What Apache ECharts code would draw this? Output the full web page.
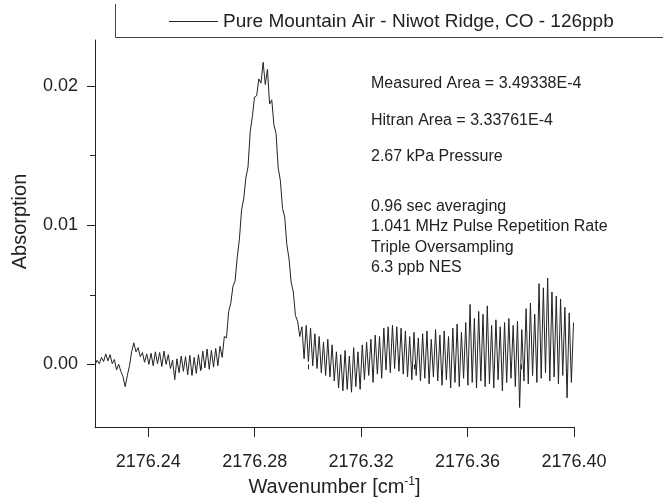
<!DOCTYPE html>
<html>
<head>
<meta charset="utf-8">
<script src="https://cdn.jsdelivr.net/npm/echarts@6/dist/echarts.min.js"></script>
<style>html,body{margin:0;padding:0;background:#fff}#c{width:663px;height:502px}</style>
</head>
<body>
<div id="c"></div>
<script>
const seriesName = 'Pure Mountain Air - Niwot Ridge, CO - 126ppb';
const wnStart = 2176.22;
const wnStep = 0.00081;
const absorption = [
-0.00005,0.0003,0.00005,0.0005,0.0002,0.00075,0.00025,0.0007,0.00005,0.00035,
-0.0004,0,-0.0005,-0.0009,-0.0016,-0.0008,-0.0001,0.0009,0.00155,0.0009,
0.0012,0.00055,0.00085,0.00015,0.00075,0,0.0008,-0.0001,0.0009,0.00005,
0.00085,-0.00015,0.00095,0,0.0007,-0.0003,0.0003,-0.0011,0.0004,-0.0006,
0.0006,-0.0005,0.00055,-0.00075,0.00065,-0.0008,0.0005,-0.00065,0.0007,-0.00045,
0.00095,-0.00025,0.0011,-0.00035,0.001,-0.0002,0.00115,-0.0001,0.0013,
0.0005,0.002,0.0019,0.0038,0.0044,0.0056,0.006,0.0077,0.009,0.0111,
0.0119,0.0134,0.0142,0.0167,0.0178,0.0192,0.0193,0.0205,0.0202,0.0217,
0.0201,0.0212,0.0187,0.019,0.0172,0.0166,0.0141,0.0132,0.0112,0.0106,
0.0086,0.0076,0.0059,0.0052,0.0035,0.0031,0.002,
0.0027,0.0004,0.0028,0.0002,0.0026,-0.0001,0.0022,-0.0003,0.002,-0.0006,
0.0016,-0.0008,0.0018,-0.0009,0.0014,-0.0012,0.0009,-0.0017,0.0007,-0.0019,
0.001,-0.0018,0.0006,-0.002,0.0012,-0.0016,0.0009,-0.0018,0.0014,-0.0011,
0.0016,-0.0008,0.0018,-0.0013,0.0021,-0.0007,0.002,-0.001,0.0026,-0.0004,
0.0027,-0.0006,0.0028,-0.0003,0.0027,-0.0005,0.0026,-0.0007,0.0024,-0.0009,
0.002,-0.0011,0.0023,-0.0008,0.0019,-0.0012,0.0022,-0.001,0.0024,-0.0014,
0.0018,-0.0009,0.0025,-0.0012,0.0021,-0.0015,0.0024,-0.0011,0.002,-0.0017,
0.0026,-0.0013,0.0029,-0.0016,0.0023,-0.001,0.003,-0.0015,0.0043,-0.0013,
0.0033,-0.0017,0.0038,-0.0012,0.0036,-0.0016,0.0042,-0.0014,0.0028,-0.0017,
0.0032,-0.0011,0.0027,-0.0019,0.003,-0.0013,0.0033,-0.001,0.0028,-0.0016,
0.0031,-0.0031,0.0025,-0.0012,0.004,-0.0014,0.0044,-0.0008,0.0036,-0.0013,
0.0058,-0.001,0.0055,-0.0006,0.0062,-0.0012,0.0052,-0.0009,0.0049,-0.0014,
0.0047,-0.0008,0.0041,-0.0024,0.0037,-0.0013,0.003
];
const xMajorTicks = [2176.24, 2176.28, 2176.32, 2176.36, 2176.40];
const xMinorTicks = [2176.22, 2176.26, 2176.30, 2176.34, 2176.38];
const yMajorTicks = [0, 0.01, 0.02];
const yMinorTicks = [0.005, 0.015];
const notes = [
  'Measured Area = 3.49338E-4',
  'Hitran Area = 3.33761E-4',
  '2.67 kPa Pressure',
  '0.96 sec averaging',
  '1.041 MHz Pulse Repetition Rate',
  'Triple Oversampling',
  '6.3 ppb NES'
];
const noteY = [84, 121, 157, 207, 227, 248, 268];

const FONT = "'Liberation Sans', Arial, sans-serif";
const INK = '#222';
const data = absorption.map((v, i) => [+(wnStart + i * wnStep).toFixed(5), v]);

const chart = echarts.init(document.getElementById('c'), null, {renderer: 'canvas'});
const xMin = 2176.22, xMax = 2176.40, yMin = -0.0045, yMax = 0.0233;

chart.setOption({
  animation: false,
  backgroundColor: '#fff',
  grid: {left: 95, right: 89, top: 40, bottom: 74},
  legend: {
    left: 169, top: 12, padding: 0,
    icon: 'rect', itemWidth: 49, itemHeight: 1,
    textStyle: {fontFamily: FONT, fontSize: 19, color: INK},
    data: [seriesName]
  },
  xAxis: [{
    type: 'value', min: xMin, max: xMax,
    name: '{a|Wavenumber [cm}{s|-1}{a|]}',
    nameLocation: 'middle', nameGap: 49,
    nameTextStyle: {
      rich: {
        a: {fontFamily: FONT, fontSize: 20, color: INK, lineHeight: 22},
        s: {fontFamily: FONT, fontSize: 12, color: INK, verticalAlign: 'top', lineHeight: 22}
      }
    },
    axisLine: {show: true, onZero: false, lineStyle: {color: INK, width: 1}},
    axisTick: {show: true, customValues: xMajorTicks, length: 10, lineStyle: {color: INK}},
    axisLabel: {customValues: xMajorTicks, margin: 26, fontFamily: FONT, fontSize: 18, color: INK,
      formatter: v => v.toFixed(2)},
    splitLine: {show: false}
  }, {
    type: 'value', min: xMin, max: xMax, position: 'bottom', gridIndex: 0,
    axisLine: {show: false},
    axisTick: {show: true, customValues: xMinorTicks, length: 5, lineStyle: {color: INK}},
    axisLabel: {show: false},
    splitLine: {show: false}
  }],
  yAxis: [{
    type: 'value', min: yMin, max: yMax,
    name: 'Absorption', nameLocation: 'middle', nameGap: 65,
    nameTextStyle: {fontFamily: FONT, fontSize: 20, color: INK, padding: [0, 0, 0, 24]},
    axisLine: {show: true, onZero: false, lineStyle: {color: INK, width: 1}},
    axisTick: {show: true, customValues: yMajorTicks, length: 8, lineStyle: {color: INK}},
    axisLabel: {customValues: yMajorTicks, margin: 17, fontFamily: FONT, fontSize: 18, color: INK,
      formatter: v => v.toFixed(2)},
    splitLine: {show: false}
  }, {
    type: 'value', min: yMin, max: yMax, position: 'left', gridIndex: 0,
    axisLine: {show: false},
    axisTick: {show: true, customValues: yMinorTicks, length: 5, lineStyle: {color: INK}},
    axisLabel: {show: false},
    splitLine: {show: false}
  }],
  series: [{
    name: seriesName, type: 'line', data: data,
    xAxisIndex: 0, yAxisIndex: 0,
    showSymbol: false, symbol: 'none', silent: true,
    lineStyle: {width: 1, color: INK},
    itemStyle: {color: INK}
  }],
  graphic: [
    {type: 'line', shape: {x1: 115.5, y1: 4, x2: 115.5, y2: 37.5}, style: {stroke: '#444', lineWidth: 1}},
    {type: 'line', shape: {x1: 115.5, y1: 37.5, x2: 663, y2: 37.5}, style: {stroke: '#444', lineWidth: 1}}
  ].concat(notes.map((t, k) => ({
    type: 'text', left: 371, top: noteY[k] - 8,
    style: {text: t, fontFamily: FONT, fontSize: 16, fill: INK}
  })))
});
</script>
</body>
</html>
